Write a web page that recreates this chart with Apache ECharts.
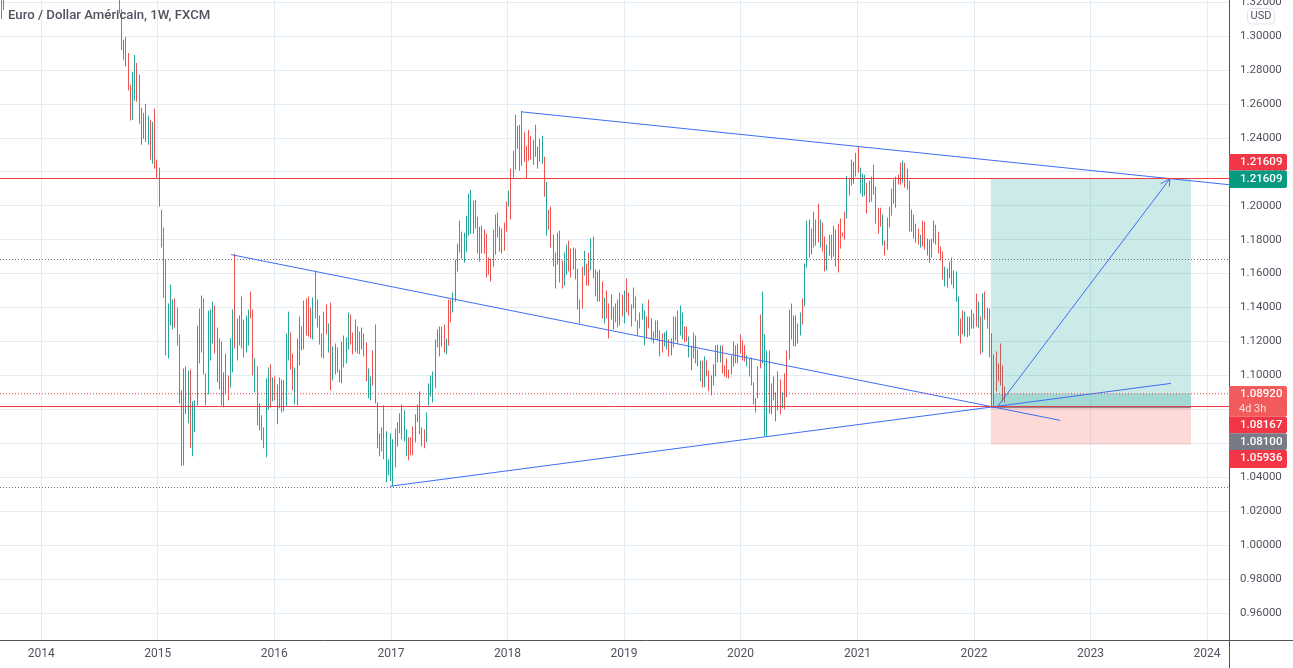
<!DOCTYPE html>
<html>
<head>
<meta charset="utf-8">
<style>html,body{margin:0;padding:0;background:#fff}#chart{width:1293px;height:668px}</style>
<script src="https://cdn.jsdelivr.net/npm/echarts@6/dist/echarts.min.js"></script>
</head>
<body>
<div id="chart"></div>
<script>
const highs = [
  1.3250,1.3157,1.2977,1.2994,1.2900,1.2712,1.2788,1.2888,1.2841,1.2771,1.2577,1.2547,1.2600,1.2530,1.2506,1.2494,1.2571,1.2271,1.2224,1.1976,
  1.1871,1.1682,1.1424,1.1535,1.1447,1.1453,1.1400,1.1241,1.0912,1.1041,1.1053,1.1029,1.1035,1.0847,1.0853,1.1294,1.1394,1.1471,1.1453,1.1012,
  1.1382,1.1388,1.1435,1.1412,1.1282,1.1218,1.1200,1.1018,1.1129,1.1000,1.1218,1.1388,1.1718,1.1335,1.1353,1.1465,1.1329,1.1353,1.1388,1.1494,
  1.1388,1.1100,1.1053,1.0835,1.0765,1.0694,1.0982,1.1047,1.1065,1.0988,1.0994,1.0947,1.0988,1.0976,1.0971,1.1247,1.1376,1.1253,1.1129,1.1047,
  1.1218,1.1347,1.1288,1.1441,1.1453,1.1465,1.1400,1.1459,1.1618,1.1447,1.1353,1.1247,1.1376,1.1418,1.1306,1.1429,
  1.1171,1.1188,1.1165,1.1035,1.1200,1.1235,1.1224,1.1371,1.1359,1.1253,1.1330,1.1288,1.1259,1.1282,1.1247,1.1194,1.1041,1.0994,1.1147,1.1300,
  1.0841,1.0659,1.0694,1.0824,1.0671,1.0506,1.0659,1.0624,1.0688,1.0724,1.0777,1.0829,1.0794,1.0682,1.0635,1.0635,1.0700,1.0771,1.0829,1.0906,
  1.0694,1.0682,1.0782,1.0953,1.1000,1.1024,1.1212,1.1271,1.1288,1.1288,1.1300,1.1218,1.1447,1.1447,1.1488,1.1682,1.1776,1.1912,1.1847,1.1841,
  1.1941,1.2071,1.2094,1.2029,1.2035,1.1935,1.1876,1.1882,1.1859,1.1835,1.1694,1.1688,1.1859,1.1947,1.1959,1.1876,1.1865,1.1900,1.2024,1.2088,
  1.2218,1.2324,1.2535,1.2471,1.2476,1.2559,1.2435,1.2353,1.2447,1.2412,1.2388,1.2476,1.2347,1.2394,1.2412,1.2288,1.2141,1.1976,1.1994,1.1829,
  1.1724,1.1841,1.1853,
  1.1677,1.1724,1.1771,1.1794,1.1747,1.1753,1.1747,1.1629,1.1447,1.1641,1.1735,1.1659,1.1724,1.1806,1.1818,1.1624,1.1612,1.1624,1.1553,1.1459,
  1.1500,1.1424,1.1476,1.1406,1.1424,1.1447,1.1488,1.1476,1.1500,1.1571,1.1488,1.1418,1.1518,1.1465,1.1324,1.1371,1.1424,1.1382,1.1347,1.1447,
  1.1335,1.1259,1.1324,1.1324,1.1265,1.1247,1.1253,1.1265,1.1212,1.1218,1.1347,1.1347,1.1382,1.1412,1.1371,1.1288,1.1288,1.1229,1.1171,1.1253,
  1.1235,1.1153,1.1088,1.1088,1.1112,1.1088,1.1029,1.1000,1.1065,1.1177,1.1182,1.1177,1.1177,1.1059,1.1100,1.1035,1.1118,1.1200,1.1177,1.1188,
  1.1241,1.1206,1.1177,1.1118,1.1100,1.1106,1.0959,1.0865,1.1053,1.1359,1.1494,1.1241,1.1147,1.1147,1.0953,1.0994,1.0900,1.1024,1.0977,1.0900,
  1.1012,1.1147,1.1388,
  1.1423,1.1353,1.1353,1.1306,1.1371,1.1453,1.1659,1.1912,1.1918,1.1865,1.1965,1.1918,1.2012,1.1918,1.1900,1.1818,1.1771,1.1829,1.1829,1.1882,
  1.1859,1.1894,1.1924,1.1841,1.1965,1.2176,1.2165,1.2271,1.2259,1.2312,1.2347,1.2224,1.2188,1.2182,1.2135,1.2147,1.2171,1.2241,1.2112,1.1988,
  1.1988,1.1947,1.1794,1.1929,1.1994,1.2100,1.2153,1.2171,1.2182,1.2253,1.2265,1.2253,1.2218,1.2147,1.1977,1.1947,1.1894,1.1865,1.1829,1.1912,
  1.1906,1.1806,1.1800,1.1806,1.1912,1.1888,1.1847,1.1759,1.1729,1.1641,1.1629,1.1671,1.1694,1.1618,1.1612,1.1465,1.1335,1.1382,1.1376,1.1347,
  1.1347,1.1388,1.1365,1.1482,1.1435,1.1347,1.1482,1.1494,1.1400,1.1394,1.1247,1.1124,1.1141,1.1071,1.1188,1.1059,1.0935
]
const lows = [
  1.3133,1.2918,1.2859,1.2820,1.2679,1.2502,1.2506,1.2618,1.2612,1.2482,1.2359,1.2394,1.2376,1.2359,1.2271,1.2247,1.2218,1.2165,1.1994,1.1753,
  1.1459,1.1118,1.1100,1.1294,1.1271,1.1282,1.1176,1.0835,1.0467,1.0471,1.0771,1.0718,1.0571,1.0524,1.0665,1.0824,1.1071,1.1135,1.1006,1.0824,
  1.0888,1.1088,1.1188,1.1129,1.0959,1.0918,1.0824,1.0812,1.0888,1.0853,1.0929,1.1018,1.1159,1.1088,1.1176,1.1159,1.1106,1.1135,1.1176,1.1335,
  1.1000,1.0900,1.0706,1.0676,1.0618,1.0571,1.0518,1.0800,1.0812,1.0847,1.0853,1.0712,1.0806,1.0782,1.0788,1.0818,1.1088,1.1035,1.0912,1.0829,
  1.0824,1.1059,1.1147,1.1153,1.1235,1.1229,1.1218,1.1212,1.1335,1.1282,1.1182,1.1106,1.1100,1.1241,1.1135,1.0912,
  1.0971,1.1006,1.1018,1.0959,1.0953,1.1047,1.1071,1.1153,1.1182,1.1124,1.1141,1.1129,1.1124,1.1153,1.1112,1.0965,1.0865,1.0853,1.0941,1.0835,
  1.0571,1.0524,1.0553,1.0506,1.0371,1.0412,1.0377,1.0347,1.0459,1.0582,1.0659,1.0624,1.0612,1.0524,1.0500,1.0529,1.0529,1.0606,1.0724,1.0653,
  1.0582,1.0571,1.0606,1.0824,1.0876,1.0841,1.0924,1.1165,1.1112,1.1171,1.1135,1.1124,1.1176,1.1312,1.1371,1.1435,1.1612,1.1724,1.1688,1.1665,
  1.1729,1.1824,1.1835,1.1835,1.1865,1.1718,1.1671,1.1718,1.1718,1.1576,1.1594,1.1553,1.1641,1.1712,1.1812,1.1729,1.1718,1.1735,1.1847,1.1994,
  1.1918,1.2165,1.2212,1.2335,1.2206,1.2235,1.2259,1.2159,1.2265,1.2271,1.2241,1.2288,1.2218,1.2259,1.2247,1.2053,1.1824,1.1859,1.1753,1.1641,
  1.1512,1.1653,1.1547,
  1.1512,1.1529,1.1594,1.1612,1.1577,1.1624,1.1565,1.1388,1.1306,1.1394,1.1588,1.1529,1.1529,1.1618,1.1571,1.1465,1.1435,1.1435,1.1335,1.1306,
  1.1335,1.1218,1.1329,1.1271,1.1312,1.1282,1.1294,1.1347,1.1306,1.1371,1.1353,1.1288,1.1394,1.1318,1.1235,1.1277,1.1329,1.1177,1.1218,1.1277,
  1.1206,1.1188,1.1218,1.1206,1.1112,1.1135,1.1171,1.1153,1.1112,1.1118,1.1165,1.1206,1.1188,1.1235,1.1212,1.1194,1.1200,1.1106,1.1029,1.1100,
  1.1071,1.1053,1.0965,1.0930,1.0930,1.0994,1.0906,1.0882,1.0941,1.0994,1.1077,1.1077,1.1012,1.0994,1.0988,1.0982,1.1006,1.1053,1.1071,1.1071,
  1.1129,1.1088,1.1082,1.1053,1.0994,1.0941,1.0829,1.0782,1.0865,1.1041,1.1071,1.0641,1.0641,1.0776,1.0771,1.0853,1.0729,1.0794,1.0771,1.0806,
  1.0800,1.0871,1.1094,
  1.1212,1.1171,1.1171,1.1188,1.1235,1.1300,1.1406,1.1635,1.1694,1.1712,1.1753,1.1765,1.1782,1.1753,1.1729,1.1612,1.1618,1.1706,1.1688,1.1700,
  1.1641,1.1606,1.1747,1.1818,1.1800,1.1924,1.2059,1.2118,1.2129,1.2171,1.2194,1.2071,1.2053,1.2059,1.1953,1.2018,1.2024,1.2065,1.1894,1.1835,
  1.1876,1.1765,1.1706,1.1741,1.1871,1.1941,1.2012,1.1988,1.2124,1.2124,1.2135,1.2106,1.2094,1.1847,1.1847,1.1806,1.1782,1.1771,1.1753,1.1759,
  1.1741,1.1706,1.1665,1.1694,1.1782,1.1771,1.1718,1.1677,1.1565,1.1524,1.1518,1.1571,1.1535,1.1512,1.1435,1.1235,1.1188,1.1241,1.1229,1.1224,
  1.1235,1.1276,1.1276,1.1288,1.1282,1.1124,1.1135,1.1329,1.1276,1.1106,1.0820,1.0812,1.0906,1.0965,1.0941,1.0847,1.0841
]
// r = falling week, g = rising week, by stretch of the chart
const directions = [
  'rrgrrrggrrrgrgrgrrrrrrgggrrrrgggrgggggrrgggrggrggrggrrgrrggrrgrgrrggrgrgrrgggrrgggrgrrrgrrrrgrgr',
  'grrrgrggrrgrrggrggrrgrrrggggggrrggrrrggrrrgggggrrrrgrrggggrgggggrrrgrrrrrrgrgrrgrgrgrrrrrrgr',
  'gggrgrrrggrrggrrgrrrrgrrgrgggrgrrggrrgrgrrrgrrrggrrrgrgrrggrgrggggrrggrgggrgrrrggggrrrrrrgrrrrgrrgg',
  'rrggggggggrgrrgrggrgrggggrgrgrrgrrggrrrrggggrrgggrrrrgrrgrgrgrgrrgrrrggrrgrrggrgrrrrggrrgggrrgrrrrrgrgrr'
].join('')

const firstWeek = '2014-09-03'
const lastWeek = '2022-04-09'
// older bars, mostly above the visible range
const olderBars = [['2013-08-29', 1.33, 1.3100, 'r'], ['2013-09-05', 1.33, 1.3153, 'g']]

const yearTicks = ['2014','2015','2016','2017','2018','2019','2020','2021','2022','2023','2024']
const priceTicks = [0.96,0.98,1.00,1.02,1.04,1.06,1.08,1.10,1.12,1.14,1.16,1.18,1.20,1.22,1.24,1.26,1.28,1.30,1.32]
const axisFrom = '2013-08-25', axisTo = '2024-03-10'
const priceFrom = 0.94412, priceTo = 1.32118

const upperTrend = [['2018-02-13', 1.2553], ['2024-03-10', 1.21236]]
const channelTrend = [['2015-08-19', 1.17118], ['2022-09-28', 1.07353]]
const lowerTrend = [['2016-12-29', 1.03471], ['2023-09-10', 1.0953]]
const targetArrow = [['2022-03-14', 1.08118], ['2023-09-07', 1.2159]]
const arrowHead = [['2023-08-09', 1.21294], ['2023-09-07', 1.2159], ['2023-09-05', 1.21136]]

const boxStart = '2022-02-23', boxEnd = '2023-11-12'
const targetPrice = 1.21609, entryPrice = 1.0810, stopPrice = 1.05936, lastPrice = 1.0892, closePrice = 1.08167
const levelsDotted = [1.16824, 1.03412]

const up = '#26a69a', down = '#ef5350', blue = '#3d6ff5', ink = '#50535e', gridColor = '#e4edf4'
const fontFamily = 'Roboto, sans-serif'

const toTime = (d) => new Date(d + 'T00:00:00Z').getTime()

const step = (toTime(lastWeek) - toTime(firstWeek)) / (highs.length - 1)
const bars = highs.map((high, i) => {
  const isUp = directions[i] === 'g'
  return [toTime(firstWeek) + i * step, isUp ? lows[i] : high, isUp ? high : lows[i], lows[i], high]
})
olderBars.forEach(([d, high, low, dir]) => {
  bars.unshift([toTime(d), dir === 'g' ? low : high, dir === 'g' ? high : low, low, high])
})

const lineSeries = (data, extra) => ({
  type: 'line',
  data: data.map(([d, p]) => [toTime(d), p]),
  showSymbol: false,
  silent: true,
  z: 5,
  lineStyle: { color: blue, width: 1 },
  ...extra
})

const chart = echarts.init(document.getElementById('chart'))

// price tags on the scale are stacked by hand, same as the screenshot
const priceTags = [
  { text: '1.21609', top: 154, h: 16.5, fill: '#f23645' },
  { text: '1.21609', top: 170.5, h: 17.5, fill: '#089981' },
  { text: '1.08920', sub: '4d 3h', top: 386, h: 30.7, fill: '#f15b5b' },
  { text: '1.08167', top: 416.7, h: 16.6, fill: '#f23645' },
  { text: '1.08100', top: 433.3, h: 16.7, fill: '#787b86' },
  { text: '1.05936', top: 450, h: 18, fill: '#f23645' }
]
const tagElements = []
priceTags.forEach((t) => {
  tagElements.push({
    type: 'rect', z: 20,
    shape: { x: 1229, y: t.top, width: 58, height: t.h, r: [0, 2, 2, 0] },
    style: { fill: t.fill }
  })
  tagElements.push({
    type: 'text', z: 21, x: 1240, y: t.top + 8.5,
    style: { text: t.text, fill: '#fff', font: '500 11.5px ' + fontFamily, textVerticalAlign: 'middle' }
  })
  if (t.sub) {
    tagElements.push({
      type: 'text', z: 21, x: 1239, y: t.top + 23,
      style: { text: t.sub, fill: 'rgba(255,255,255,0.8)', font: '11px ' + fontFamily, textVerticalAlign: 'middle' }
    })
  }
})

chart.setOption({
  animation: false,
  backgroundColor: '#fff',
  textStyle: { fontFamily },
  grid: { left: 0, right: 64, top: 0, bottom: 28, outerBoundsMode: 'none' },
  xAxis: {
    type: 'value',
    min: toTime(axisFrom),
    max: toTime(axisTo),
    axisLine: { show: false },
    axisTick: { show: false, customValues: yearTicks.map((y) => toTime(y + '-01-01')) },
    axisLabel: {
      color: ink, fontSize: 12, margin: 8, hideOverlap: false,
      customValues: yearTicks.map((y) => toTime(y + '-01-01')),
      formatter: (v) => String(new Date(v).getUTCFullYear())
    },
    splitLine: { show: true, lineStyle: { color: gridColor, width: 1 } }
  },
  yAxis: {
    type: 'value',
    position: 'right',
    min: priceFrom,
    max: priceTo,
    axisLine: { show: false },
    axisTick: { show: false, customValues: priceTicks },
    axisLabel: {
      color: ink, fontSize: 11.5, margin: 11, padding: [4, 0, 0, 0],
      customValues: priceTicks,
      formatter: (v) => v.toFixed(5)
    },
    splitLine: { show: true, lineStyle: { color: gridColor, width: 1 } }
  },
  series: [
    {
      type: 'candlestick',
      data: bars,
      barWidth: 0.01,
      z: 3,
      silent: true,
      itemStyle: { color: up, color0: down, borderColor: up, borderColor0: down, borderWidth: 1 },
      markLine: {
        silent: true,
        symbol: 'none',
        precision: 5,
        label: { show: false },
        z: 6,
        data: [
          { yAxis: targetPrice, lineStyle: { color: '#ee3a42', width: 1, type: 'solid' } },
          { yAxis: closePrice, lineStyle: { color: '#ee3a42', width: 1, type: 'solid' } },
          ...levelsDotted.map((p) => ({ yAxis: p, lineStyle: { color: '#6b6e78', width: 1, type: [1, 2] } }))
        ]
      }
    },
    {
      type: 'line',
      data: [],
      silent: true,
      z: 4,
      markArea: {
        silent: true,
        z: 4,
        data: [
          [{ xAxis: toTime(boxStart), yAxis: targetPrice, itemStyle: { color: 'rgba(0,150,136,0.2)' } }, { xAxis: toTime(boxEnd), yAxis: entryPrice }],
          [{ xAxis: toTime(boxStart), yAxis: entryPrice, itemStyle: { color: 'rgba(244,67,54,0.2)' } }, { xAxis: toTime(boxEnd), yAxis: stopPrice }],
          [{ xAxis: toTime('2022-03-01'), yAxis: lastPrice, itemStyle: { color: 'rgba(0,150,136,0.2)' } }, { xAxis: toTime(boxEnd), yAxis: closePrice }]
        ]
      }
    },
    lineSeries([[boxStart, entryPrice], [boxEnd, entryPrice]], { lineStyle: { color: '#787b86', width: 1 }, z: 4 }),
    lineSeries([[axisFrom, lastPrice], [axisTo, lastPrice]], { lineStyle: { color: '#f23645', width: 1.2, type: [1, 2] }, z: 6 }),
    lineSeries(upperTrend),
    lineSeries(channelTrend),
    lineSeries(lowerTrend),
    lineSeries(targetArrow),
    lineSeries(arrowHead)
  ],
  graphic: [
    { type: 'line', z: 19, shape: { x1: 1229.5, y1: 0, x2: 1229.5, y2: 668 }, style: { stroke: ink, lineWidth: 1 } },
    { type: 'line', z: 19, shape: { x1: 0, y1: 640.5, x2: 1293, y2: 640.5 }, style: { stroke: ink, lineWidth: 1 } },
    {
      type: 'text', z: 21, x: 8, y: 16,
      style: { text: 'Euro / Dollar Américain, 1W, FXCM', fill: ink, font: '500 13.2px ' + fontFamily, textVerticalAlign: 'middle' }
    },
    {
      type: 'rect', z: 20,
      shape: { x: 1247.5, y: 8.5, width: 27, height: 15.5, r: 4 },
      style: { fill: '#fff', stroke: '#e0e3eb', lineWidth: 1 }
    },
    {
      type: 'text', z: 21, x: 1261, y: 16.5,
      style: { text: 'USD', fill: ink, font: '11px ' + fontFamily, textAlign: 'center', textVerticalAlign: 'middle' }
    },
    ...tagElements
  ]
})
</script>
</body>
</html>
